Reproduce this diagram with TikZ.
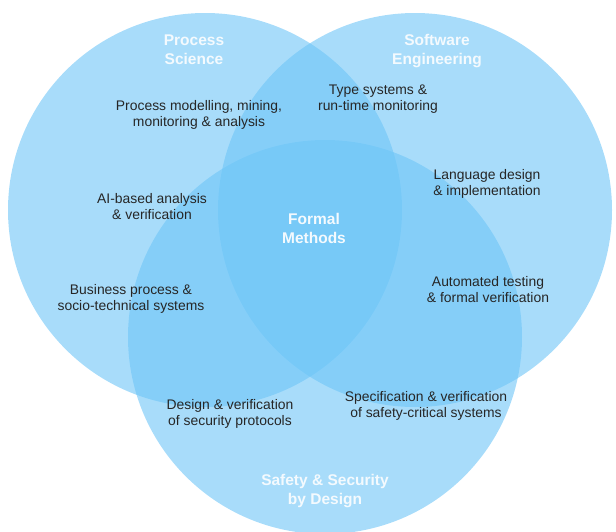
\documentclass[tikz,border=0pt]{standalone}
\usepackage{fontspec}
\setmainfont{Liberation Sans}
\usepackage{tikz}

\definecolor{vennblue}{RGB}{110,197,247}

\begin{document}
\begin{tikzpicture}[x=1pt,y=-1pt]
        \begin{scope}[
            every node/.style={align=center,text=black!85,font=\fontsize{13.9}{16}\selectfont},
            setfill/.style={fill=vennblue,fill opacity=0.6},
            setname/.style={text=white!92!vennblue,font=\bfseries\fontsize{15.5}{19}\selectfont}
            ]
            \useasboundingbox (0,0) rectangle (616,531);
            \clip (0,0) rectangle (616,531);
            \fill[setfill] (205,210) circle (197pt);
            \fill[setfill] (415,210) circle (197pt);
            \fill[setfill] (325,337) circle (197pt);
            \node[setname] (PS) at (194,50) {Process\\Science};
            \node[setname] (SE) at (437,51) {Software\\Engineering};
            \node[setname] (SSD) at (325,491) {Safety \& Security\\by Design};
            \node[setname] (FM) at (314,228) {Formal\\Methods};
            \node (PM) at (199,115) {Process modelling, mining,\\monitoring \& analysis};
            \node (TS) at (378,99) {Type systems \&\\run-time monitoring};
            \node (LD) at (487,184) {Language design\\\& implementation};
            \node (AI) at (152,207) {AI-based analysis\\\& verification};
            \node (BP) at (131,299) {Business process \&\\socio-technical systems};
            \node (AT) at (488,290) {Automated testing\\\& formal verification};
            \node (DV) at (230,414) {Design \& verification\\of security protocols};
            \node (SV) at (426,406) {Specification \& verification\\of safety-critical systems};
        \end{scope}
    \end{tikzpicture}
\end{document}
